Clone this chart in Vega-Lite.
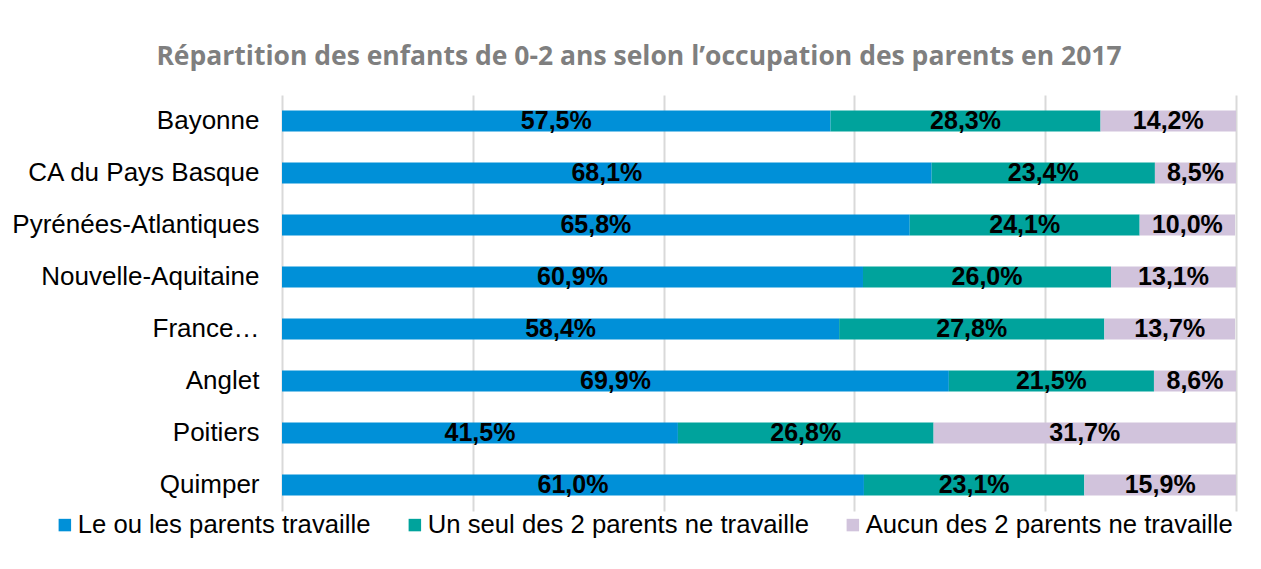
{
  "$schema": "https://vega.github.io/schema/vega-lite/v6.json",
  "autosize": "none",
  "width": 954,
  "height": 416,
  "padding": {"left": 282, "top": 95, "right": 25, "bottom": 58},
  "background": "white",
  "title": {
    "text": "Répartition des enfants de 0-2 ans selon l’occupation des parents en 2017",
    "font": "Open Sans",
    "fontSize": 26.5,
    "fontWeight": "bold",
    "color": "#7f7f7f",
    "anchor": "middle",
    "baseline": "alphabetic",
    "offset": 4,
    "dx": -120
  },
  "data": {
    "values": [
      {"lieu": "Bayonne", "situation": "Le ou les parents travaille", "part": 0.575, "rang": 1},
      {"lieu": "Bayonne", "situation": "Un seul des 2 parents ne travaille", "part": 0.283, "rang": 2},
      {"lieu": "Bayonne", "situation": "Aucun des 2 parents ne travaille", "part": 0.142, "rang": 3},
      {"lieu": "CA du Pays Basque", "situation": "Le ou les parents travaille", "part": 0.681, "rang": 1},
      {"lieu": "CA du Pays Basque", "situation": "Un seul des 2 parents ne travaille", "part": 0.234, "rang": 2},
      {"lieu": "CA du Pays Basque", "situation": "Aucun des 2 parents ne travaille", "part": 0.085, "rang": 3},
      {"lieu": "Pyrénées-Atlantiques", "situation": "Le ou les parents travaille", "part": 0.658, "rang": 1},
      {"lieu": "Pyrénées-Atlantiques", "situation": "Un seul des 2 parents ne travaille", "part": 0.241, "rang": 2},
      {"lieu": "Pyrénées-Atlantiques", "situation": "Aucun des 2 parents ne travaille", "part": 0.100, "rang": 3},
      {"lieu": "Nouvelle-Aquitaine", "situation": "Le ou les parents travaille", "part": 0.609, "rang": 1},
      {"lieu": "Nouvelle-Aquitaine", "situation": "Un seul des 2 parents ne travaille", "part": 0.260, "rang": 2},
      {"lieu": "Nouvelle-Aquitaine", "situation": "Aucun des 2 parents ne travaille", "part": 0.131, "rang": 3},
      {"lieu": "France…", "situation": "Le ou les parents travaille", "part": 0.584, "rang": 1},
      {"lieu": "France…", "situation": "Un seul des 2 parents ne travaille", "part": 0.278, "rang": 2},
      {"lieu": "France…", "situation": "Aucun des 2 parents ne travaille", "part": 0.137, "rang": 3},
      {"lieu": "Anglet", "situation": "Le ou les parents travaille", "part": 0.699, "rang": 1},
      {"lieu": "Anglet", "situation": "Un seul des 2 parents ne travaille", "part": 0.215, "rang": 2},
      {"lieu": "Anglet", "situation": "Aucun des 2 parents ne travaille", "part": 0.086, "rang": 3},
      {"lieu": "Poitiers", "situation": "Le ou les parents travaille", "part": 0.415, "rang": 1},
      {"lieu": "Poitiers", "situation": "Un seul des 2 parents ne travaille", "part": 0.268, "rang": 2},
      {"lieu": "Poitiers", "situation": "Aucun des 2 parents ne travaille", "part": 0.317, "rang": 3},
      {"lieu": "Quimper", "situation": "Le ou les parents travaille", "part": 0.610, "rang": 1},
      {"lieu": "Quimper", "situation": "Un seul des 2 parents ne travaille", "part": 0.231, "rang": 2},
      {"lieu": "Quimper", "situation": "Aucun des 2 parents ne travaille", "part": 0.159, "rang": 3}
    ]
  },
  "encoding": {
    "y": {
      "field": "lieu",
      "type": "nominal",
      "sort": ["Bayonne", "CA du Pays Basque", "Pyrénées-Atlantiques", "Nouvelle-Aquitaine", "France…", "Anglet", "Poitiers", "Quimper"],
      "scale": {"paddingInner": 0.6, "paddingOuter": 0.3},
      "axis": {
        "title": null,
        "ticks": false,
        "domain": false,
        "labelFont": "Liberation Sans",
        "labelFontSize": 26,
        "labelColor": "#000000",
        "labelPadding": 23,
        "labelLimit": 400
      }
    }
  },
  "layer": [
    {
      "mark": {"type": "bar"},
      "encoding": {
        "x": {
          "field": "part",
          "type": "quantitative",
          "stack": "zero",
          "scale": {"domain": [0, 1], "nice": false},
          "axis": {
            "title": null,
            "labels": false,
            "ticks": false,
            "domain": false,
            "grid": true,
            "values": [0, 0.2, 0.4, 0.6, 0.8, 1],
            "gridColor": "#d9d9d9",
            "gridWidth": 2
          }
        },
        "order": {"field": "rang", "type": "quantitative"},
        "color": {
          "field": "situation",
          "type": "nominal",
          "scale": {
            "domain": ["Le ou les parents travaille", "Un seul des 2 parents ne travaille", "Aucun des 2 parents ne travaille"],
            "range": ["#0090d8", "#00a39c", "#d1c3dc"]
          },
          "legend": {
            "title": null,
            "orient": "none",
            "direction": "horizontal",
            "legendX": -230,
            "legendY": 417,
            "symbolType": "square",
            "symbolSize": 156,
            "symbolStrokeWidth": 0,
            "labelFont": "Liberation Sans",
            "labelFontSize": 25.7,
            "labelColor": "#000000",
            "labelLimit": 500,
            "labelOffset": 0,
            "columnPadding": 31,
            "padding": 0
          }
        }
      }
    },
    {
      "transform": [
        {"stack": "part", "groupby": ["lieu"], "sort": [{"field": "rang", "order": "ascending"}], "as": ["debut", "fin"]},
        {"fold": ["debut", "fin"], "as": ["bord", "position"]}
      ],
      "mark": {"type": "text", "font": "Liberation Sans", "fontSize": 25, "fontWeight": "bold", "color": "#000000", "baseline": "middle", "align": "center"},
      "encoding": {
        "x": {"aggregate": "mean", "field": "position", "type": "quantitative", "stack": null},
        "detail": {"field": "situation", "type": "nominal"},
        "text": {"field": "part", "type": "quantitative", "format": ".1%"}
      }
    }
  ],
  "config": {
    "view": {"stroke": null},
    "locale": {"number": {"decimal": ",", "thousands": " ", "grouping": [3], "currency": ["", " €"]}}
  }
}
